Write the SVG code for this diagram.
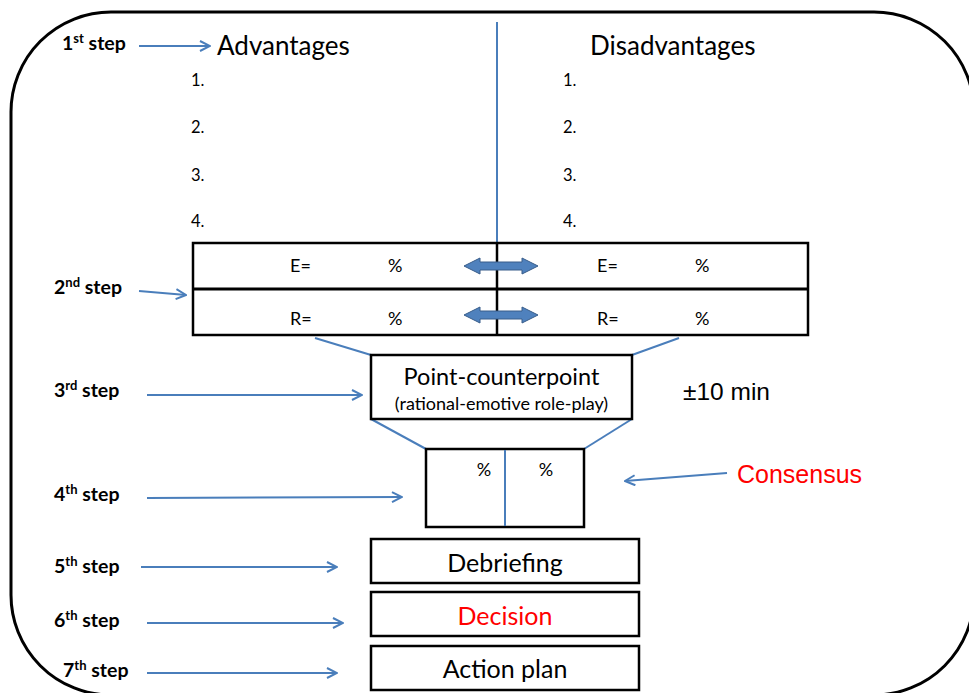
<svg xmlns="http://www.w3.org/2000/svg" width="969" height="693" viewBox="0 0 969 693">
  <defs>
    <style>
      .frame { fill: none; stroke: #000; stroke-width: 3; }
      .box { fill: #fff; stroke: #000; stroke-width: 2.5; }
      .link { fill: none; stroke: #4A7EBB; stroke-width: 2; }
      .arrow { fill: none; stroke: #4A7EBB; stroke-width: 2; marker-end: url(#open); }
      .step { font-family: Lato, "Liberation Sans", sans-serif; font-weight: bold; font-size: 19.5px; fill: #000; }
      .step tspan.sup { font-size: 13px; }
      .cal { font-family: Lato, "Liberation Sans", sans-serif; fill: #000; }
      .ari { font-family: "Liberation Sans", Arial, sans-serif; }
      .red { fill: #FF0000; }
      .dbl { fill: #4F81BD; stroke: #385D8A; stroke-width: 1; }
    </style>
    <marker id="open" viewBox="0 0 12 12" refX="11" refY="6" markerWidth="12" markerHeight="12" markerUnits="userSpaceOnUse" orient="auto">
      <path d="M1,1 L11,6 L1,11" fill="none" stroke="#4A7EBB" stroke-width="2"/>
    </marker>
  </defs>

  <!-- outer rounded frame -->
  <rect class="frame" x="11" y="12" width="963" height="683" rx="100" ry="100"/>

  <!-- step labels -->
  <g id="step-labels">
    <text class="step" x="62" y="50">1<tspan class="sup" dy="-7">st</tspan><tspan dy="7"> step</tspan></text>
    <text class="step" x="54" y="294">2<tspan class="sup" dy="-7">nd</tspan><tspan dy="7"> step</tspan></text>
    <text class="step" x="54" y="397">3<tspan class="sup" dy="-7">rd</tspan><tspan dy="7"> step</tspan></text>
    <text class="step" x="54" y="501">4<tspan class="sup" dy="-7">th</tspan><tspan dy="7"> step</tspan></text>
    <text class="step" x="54" y="573">5<tspan class="sup" dy="-7">th</tspan><tspan dy="7"> step</tspan></text>
    <text class="step" x="54" y="627">6<tspan class="sup" dy="-7">th</tspan><tspan dy="7"> step</tspan></text>
    <text class="step" x="63" y="677">7<tspan class="sup" dy="-7">th</tspan><tspan dy="7"> step</tspan></text>
  </g>

  <!-- advantages / disadvantages lists -->
  <g id="lists">
    <text class="cal" x="217" y="55" font-size="26">Advantages</text>
    <text class="cal" x="590" y="55" font-size="26">Disadvantages</text>
    <g class="cal" font-size="16.5">
      <text x="191" y="86">1.</text>
      <text x="191" y="133">2.</text>
      <text x="191" y="181">3.</text>
      <text x="191" y="227">4.</text>
      <text x="563" y="86">1.</text>
      <text x="563" y="133">2.</text>
      <text x="563" y="181">3.</text>
      <text x="563" y="227">4.</text>
    </g>
  </g>

  <!-- connectors -->
  <g id="connectors">
    <line class="link" x1="497" y1="22" x2="497" y2="244"/>
    <line class="arrow" x1="139" y1="46" x2="210" y2="46"/>
    <line class="arrow" x1="139" y1="291" x2="186" y2="295"/>
    <line class="arrow" x1="147" y1="395" x2="362" y2="395"/>
    <line class="arrow" x1="147" y1="498" x2="402" y2="497"/>
    <line class="arrow" x1="141" y1="567" x2="337" y2="567"/>
    <line class="arrow" x1="147" y1="623" x2="343" y2="623"/>
    <line class="arrow" x1="147" y1="673" x2="337" y2="673"/>
    <line class="arrow" x1="727" y1="473" x2="625" y2="481"/>
    <line class="link" x1="315" y1="338" x2="371" y2="355"/>
    <line class="link" x1="679" y1="338" x2="632" y2="355"/>
    <line class="link" x1="371" y1="419" x2="426" y2="449"/>
    <line class="link" x1="632" y1="419" x2="584" y2="449"/>
  </g>

  <!-- E / R weighting table -->
  <g id="weights">
    <rect class="box" x="193" y="243" width="615" height="92"/>
    <line x1="193" y1="289" x2="808" y2="289" stroke="#000" stroke-width="3"/>
    <line x1="497" y1="243" x2="497" y2="335" stroke="#000" stroke-width="2.5"/>
    <g class="cal" font-size="18">
      <text x="290" y="272">E=</text>
      <text x="388" y="272">%</text>
      <text x="597" y="272">E=</text>
      <text x="695" y="272">%</text>
      <text x="290" y="325">R=</text>
      <text x="388" y="325">%</text>
      <text x="597" y="325">R=</text>
      <text x="695" y="325">%</text>
    </g>
    <path class="dbl" d="M464,266 L480,258 L480,262 L522,262 L522,258 L538,266 L522,274 L522,270 L480,270 L480,274 Z"/>
    <path class="dbl" d="M464,315 L480,307 L480,311 L522,311 L522,307 L538,315 L522,323 L522,319 L480,319 L480,323 Z"/>
  </g>

  <!-- step 3 -->
  <g id="point-counterpoint">
    <rect class="box" x="371" y="355" width="261" height="64"/>
    <text class="cal" x="501.5" y="385" font-size="23.5" text-anchor="middle">Point-counterpoint</text>
    <text class="cal" x="501.5" y="410" font-size="18" text-anchor="middle">(rational-emotive role-play)</text>
  </g>
  <text class="ari" x="683" y="400" font-size="24.5">±10 min</text>

  <!-- step 4 -->
  <g id="consensus-box">
    <rect class="box" x="426" y="449" width="158" height="78"/>
    <line class="link" x1="505" y1="450" x2="505" y2="526"/>
    <text class="cal" x="484" y="476" font-size="18" text-anchor="middle">%</text>
    <text class="cal" x="546" y="476" font-size="18" text-anchor="middle">%</text>
  </g>
  <text class="ari red" x="737" y="483" font-size="25">Consensus</text>

  <!-- steps 5-7 -->
  <g id="debriefing">
    <rect class="box" x="371" y="539" width="268" height="44"/>
    <text class="cal" x="505" y="572" font-size="25" text-anchor="middle">Debriefing</text>
  </g>
  <g id="decision">
    <rect class="box" x="371" y="592" width="268" height="44"/>
    <text class="cal red" x="505" y="625" font-size="25" text-anchor="middle">Decision</text>
  </g>
  <g id="action-plan">
    <rect class="box" x="371" y="646" width="268" height="44"/>
    <text class="cal" x="505" y="678" font-size="25" text-anchor="middle">Action plan</text>
  </g>
</svg>
